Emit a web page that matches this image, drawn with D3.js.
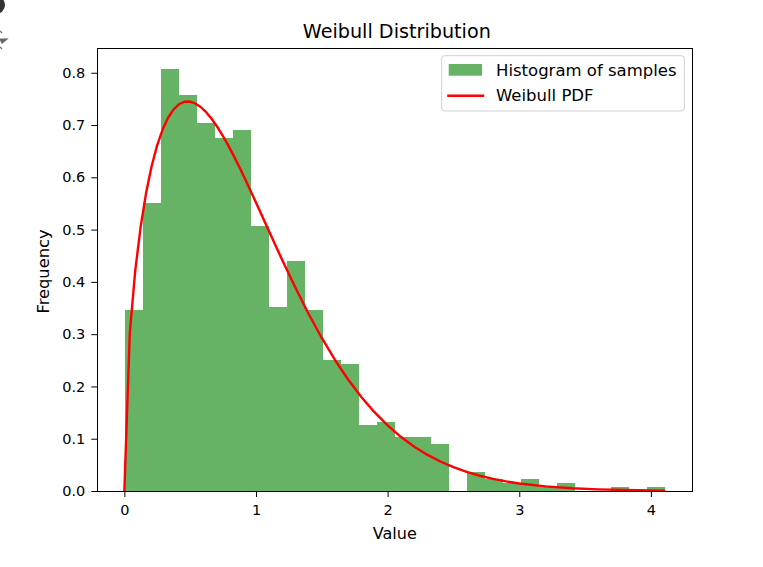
<!DOCTYPE html>
<meta charset="utf-8">
<style>
body{
	margin:0;
	background:#fff;
}
text{
	font-family:"DejaVu Sans", sans-serif;
	fill:#000;
}
.tick text{
	font-size:14.5px;
}
.tick line{
	stroke:#000;
	stroke-width:1px;
}
.frame{
	fill:none;
	stroke:#000;
	stroke-width:1px;
	shape-rendering:crispEdges;
}
.bars rect{
	fill:#66b366;
	shape-rendering:crispEdges;
}
.pdf{
	fill:none;
	stroke:#ff0000;
	stroke-width:2.4px;
	stroke-linejoin:round;
}
.legend rect.box{
	fill:#fff;
	fill-opacity:0.8;
	stroke:#d0d0d0;
	stroke-width:1px;
}
.legend text{
	font-size:16.5px;
}
</style>
<body>
<script src="https://d3js.org/d3.v7.min.js"></script>
<script>

// histogram bin edges (31 edges -> 30 bins)
var binEdges=[0.002,0.139,0.276,0.413,0.550,0.687,0.823,0.960,1.097,1.234,
	1.371,1.508,1.645,1.782,1.919,2.056,2.192,2.329,2.466,2.603,
	2.740,2.877,3.014,3.151,3.288,3.425,3.561,3.698,3.835,3.972,4.109];

// density of each bin
var binHeights=[0.346,0.550,0.807,0.757,0.704,0.676,0.690,0.507,0.352,0.440,
	0.346,0.250,0.243,0.126,0.132,0.103,0.103,0.089,0,0.036,
	0.022,0.015,0.022,0.007,0.015,0,0,0.007,0,0.007];

// Weibull PDF curve
var pdfX=[0,0.0414,0.0828,0.1242,0.1657,0.2071,0.2485,0.2899,0.3313,0.3727,
	0.4141,0.4556,0.4970,0.5384,0.5798,0.6212,0.6626,0.7040,0.7455,0.7869,
	0.8283,0.8697,0.9111,0.9525,0.9939,1.1,1.2,1.3,1.4,1.5,
	1.6,1.7,1.8,1.9,2.0,2.1,2.2,2.3,2.4,2.5,
	2.6,2.7,2.8,2.9,3.0,3.2,3.4,3.6,3.8,4.109];
var pdfY=[0,0.3027,0.4215,0.5060,0.5708,0.6212,0.6606,0.6909,0.7135,0.7294,
	0.7395,0.7445,0.7449,0.7414,0.7345,0.7246,0.7120,0.6972,0.6804,0.6620,
	0.6424,0.6217,0.6001,0.5778,0.5551,0.4963,0.4414,0.3886,0.3386,0.2927,
	0.2506,0.2132,0.1799,0.1507,0.1254,0.1036,0.0852,0.0695,0.0564,0.0455,
	0.0365,0.0292,0.0232,0.0183,0.0144,0.0088,0.0053,0.0031,0.0018,0.00074];

var xTicks=[0,1,2,3,4];
var yTicks=[0,0.1,0.2,0.3,0.4,0.5,0.6,0.7,0.8];
var legendItems=["Histogram of samples","Weibull PDF"];

var W=763, H=567;
var m={left:97.3, top:48, right:692.3, bottom:491};

var svg=d3.select("body").append("svg").attr("width",W).attr("height",H);

// window-corner remnants seen in the screenshot
svg.append("circle").attr("cx",-4).attr("cy",5).attr("r",9).attr("fill","#333");
svg.append("path").attr("d","M0,39 L7,39 L2,43 Z M0,31 L2,33 M0,47 L2,49")
	.attr("fill","#666").attr("stroke","#666").attr("stroke-width",1.2);

var xSpan=binEdges[binEdges.length-1]-pdfX[0];
var x=d3.scaleLinear()
	.domain([pdfX[0]-0.05*xSpan, binEdges[binEdges.length-1]+0.05*xSpan])
	.range([m.left,m.right]);
var y=d3.scaleLinear()
	.domain([0, d3.max(binHeights)*1.05])
	.range([m.bottom,m.top]);

var bins=binHeights.map(function(h,i){ return {x0:binEdges[i], x1:binEdges[i+1], h:h}; });

svg.append("g").attr("class","bars").selectAll("rect")
	.data(bins.filter(d=>d.h>0))
	.enter().append("rect")
	.attr("x",d=>x(d.x0))
	.attr("width",d=>x(d.x1)-x(d.x0))
	.attr("y",d=>y(d.h))
	.attr("height",d=>y(0)-y(d.h));

var line=d3.line().x(d=>x(d[0])).y(d=>y(d[1]));
svg.append("path").attr("class","pdf")
	.datum(pdfX.map((v,i)=>[v,pdfY[i]]))
	.attr("d",line);

// axes
var gx=svg.append("g").attr("transform","translate(0,"+m.bottom+")")
	.call(d3.axisBottom(x).tickValues(xTicks).tickFormat(d3.format("d")).tickSize(6).tickPadding(8));
var gy=svg.append("g").attr("transform","translate("+m.left+",0)")
	.call(d3.axisLeft(y).tickValues(yTicks).tickFormat(d3.format(".1f")).tickSize(6).tickPadding(6));
gx.select(".domain").remove();
gy.select(".domain").remove();
svg.selectAll(".tick text").attr("font-family",null).attr("font-size",null);

svg.append("rect").attr("class","frame")
	.attr("x",m.left).attr("y",m.top)
	.attr("width",m.right-m.left).attr("height",m.bottom-m.top);

// labels
svg.append("text").attr("x",(m.left+m.right)/2+2).attr("y",38)
	.style("text-anchor","middle").style("font-size","19.2px").text("Weibull Distribution");
svg.append("text").attr("x",(m.left+m.right)/2).attr("y",539)
	.style("text-anchor","middle").style("font-size","16px").text("Value");
svg.append("text").attr("transform","translate(49,"+((m.top+m.bottom)/2+2)+") rotate(-90)")
	.style("text-anchor","middle").style("font-size","16.3px").text("Frequency");

// legend
var lg=svg.append("g").attr("class","legend").attr("transform","translate(441.7,55.7)");
lg.append("rect").attr("class","box").attr("width",242.6).attr("height",55.3).attr("rx",3).attr("ry",3);
lg.append("rect").attr("x",7).attr("y",8.3).attr("width",33.3).attr("height",11.7).attr("fill","#66b366");
lg.append("line").attr("x1",5.5).attr("x2",42.5).attr("y1",40).attr("y2",40)
	.attr("stroke","#ff0000").attr("stroke-width",2.4);
lg.selectAll("text.item").data(legendItems).enter().append("text").attr("class","item")
	.attr("x",54.3).attr("y",(d,i)=>20.3+i*25.3).text(d=>d);

</script>
</body>
</html>
